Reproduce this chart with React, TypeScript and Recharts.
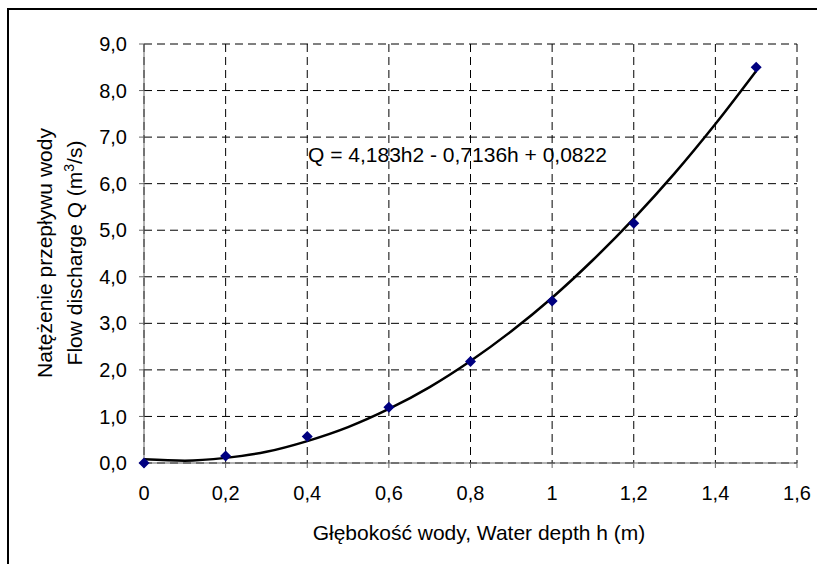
import React from "react"
import { ComposedChart, Line, Scatter, XAxis, YAxis, CartesianGrid } from "recharts"

// measured points
const depthPoints = [0, 0.2, 0.4, 0.6, 0.8, 1.0, 1.2, 1.5]
const dischargePoints = [0, 0.15, 0.57, 1.2, 2.18, 3.48, 5.15, 8.5]

// trend line
const trendDepth = [0, 0.1, 0.2, 0.3, 0.4, 0.5, 0.6, 0.7, 0.8, 0.9, 1.0, 1.1, 1.2, 1.3, 1.4, 1.5]
const trendDischarge = [0.08, 0.05, 0.11, 0.24, 0.47, 0.77, 1.16, 1.63, 2.19, 2.83, 3.55, 4.36, 5.25, 6.22, 7.28, 8.42]

const xTicks = [0, 0.2, 0.4, 0.6, 0.8, 1, 1.2, 1.4, 1.6]
const yTicks = [0, 1, 2, 3, 4, 5, 6, 7, 8, 9]

const points = depthPoints.map((h, i) => ({ h, q: dischargePoints[i] }))
const trend = trendDepth.map((h, i) => ({ h, q: trendDischarge[i] }))

const font = "'Liberation Sans', Arial, sans-serif"
const fmtX = (v: number) => String(v).replace(".", ",")
const fmtY = (v: number) => v.toFixed(1).replace(".", ",")

const Diamond = (props: any) => {
  const { cx, cy } = props
  const r = 5.5
  return <polygon points={`${cx},${cy - r} ${cx + r},${cy} ${cx},${cy + r} ${cx - r},${cy}`} fill="#000080" />
}

export default function App() {
  return (
    <div style={{ position: "absolute", left: 0, top: 0, width: 817, height: 564, overflow: "hidden", background: "#fff", fontFamily: font }}>
      <div style={{ position: "absolute", left: 7, top: 8, width: 900, height: 700, border: "2px solid #000" }} />
      <ComposedChart
        width={817}
        height={564}
        margin={{ top: 44, right: 20, bottom: 41, left: 0 }}
        style={{ position: "absolute", left: 0, top: 0 }}
      >
        <CartesianGrid stroke="#000" strokeDasharray="8 5" />
        <XAxis
          type="number"
          dataKey="h"
          domain={[0, 1.6]}
          ticks={xTicks}
          tickFormatter={fmtX}
          height={60}
          tickSize={5}
          tickMargin={18}
          stroke="#666"
          tick={{ fill: "#000", fontSize: 20, fontFamily: font }}
        />
        <YAxis
          type="number"
          domain={[0, 9]}
          ticks={yTicks}
          tickFormatter={fmtY}
          width={144}
          tickSize={5}
          tickMargin={12}
          stroke="#666"
          tick={{ fill: "#000", fontSize: 20, fontFamily: font }}
        />
        <Line
          data={trend}
          dataKey="q"
          type="monotone"
          stroke="#000"
          strokeWidth={2.5}
          dot={false}
          isAnimationActive={false}
        />
        <Scatter data={points} dataKey="q" shape={<Diamond />} isAnimationActive={false} />
      </ComposedChart>
      <svg width={817} height={564} style={{ position: "absolute", left: 0, top: 0, pointerEvents: "none" }} fontFamily={font}>
        <text x={308} y={162} fontSize={21} fill="#000">Q = 4,183h2 - 0,7136h + 0,0822</text>
        <text x={479} y={540} fontSize={21} fill="#000" textAnchor="middle">Głębokość wody, Water depth h (m)</text>
        <g transform="translate(52,253) rotate(-90)">
          <text x={0} y={0} fontSize={21} fill="#000" textAnchor="middle">Natężenie przepływu wody</text>
        </g>
        <g transform="translate(82,253) rotate(-90)">
          <text x={0} y={0} fontSize={21} fill="#000" textAnchor="middle">
            Flow discharge Q (m<tspan fontSize={14} dy={-8}>3</tspan><tspan dy={8}>/s)</tspan>
          </text>
        </g>
      </svg>
    </div>
  )
}
